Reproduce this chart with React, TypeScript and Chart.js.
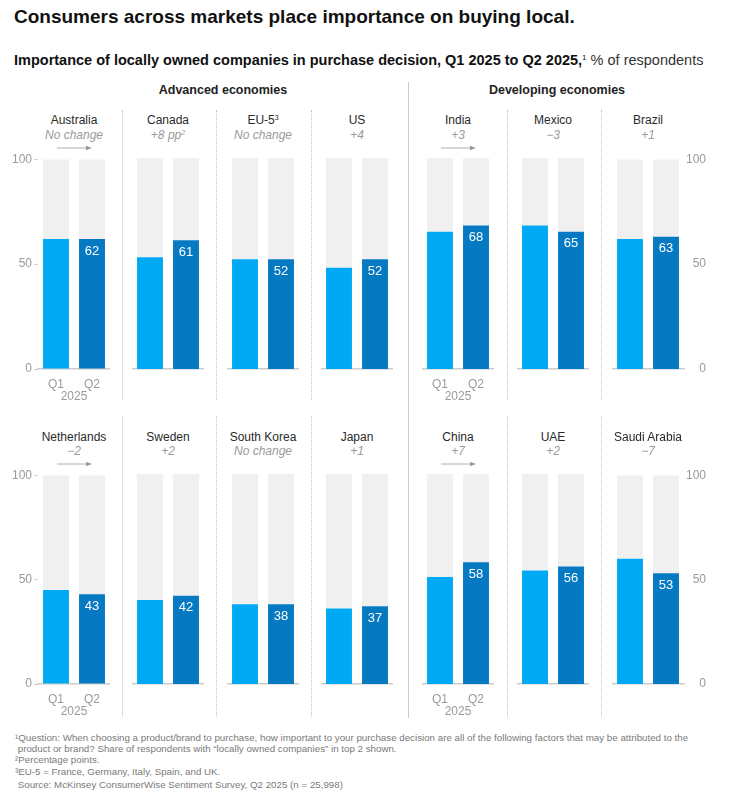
import React, { useEffect, useRef } from 'react';
import { Chart, registerables } from 'chart.js';

Chart.register(...registerables);

// ---------- data ----------
const quarters = ['Q1', 'Q2'];
const yTicks = [0, 50, 100];

const row1Countries = ['Australia', 'Canada', 'EU-5', 'US', 'India', 'Mexico', 'Brazil'];
const row1Sup = ['', '', '3', '', '', '', ''];
const row1Changes = ['No change', '+8 pp', 'No change', '+4', '+3', '\u22123', '+1'];
const row1ChangeSup = ['', '2', '', '', '', '', ''];
const row1Q1 = [62, 53, 52, 48, 65, 68, 62];
const row1Q2 = [62, 61, 52, 52, 68, 65, 63];

const row2Countries = ['Netherlands', 'Sweden', 'South Korea', 'Japan', 'China', 'UAE', 'Saudi Arabia'];
const row2Sup = ['', '', '', '', '', '', ''];
const row2Changes = ['\u22122', '+2', 'No change', '+1', '+7', '+2', '\u22127'];
const row2ChangeSup = ['', '', '', '', '', '', ''];
const row2Q1 = [45, 40, 38, 36, 51, 54, 60];
const row2Q2 = [43, 42, 38, 37, 58, 56, 53];

const groupHeaders = ['Advanced economies', 'Developing economies'];

const footnotes = [
  '\u00B9Question: When choosing a product/brand to purchase, how important to your purchase decision are all of the following factors that may be attributed to the',
  ' product or brand? Share of respondents with \u201Clocally owned companies\u201D in top 2 shown.',
  '\u00B2Percentage points.',
  '\u00B3EU-5 = France, Germany, Italy, Spain, and UK.',
  ' Source: McKinsey ConsumerWise Sentiment Survey, Q2 2025 (n = 25,998)',
];

// ---------- style ----------
const FONT = '"Liberation Sans", Arial, sans-serif';
const Q1C = '#00A9F4';
const Q2C = '#0679C3';
const TRACK = '#F0F0F0';
const TICK = '#9a9a9a';

const panelLefts = [38, 132, 227, 321, 422, 517, 612];
const PW = 72;
const LEFT_AXIS_W = 38;
const RIGHT_AXIS_W = 22;
const X_AXIS_H = 40;
const PAD_TOP = 8;

const valueLabelPlugin = {
  id: 'valueLabel',
  afterDatasetsDraw(chart: any) {
    const meta = chart.getDatasetMeta(0);
    const bar = meta.data[1];
    const v = chart.data.datasets[0].data[1];
    const ctx = chart.ctx;
    ctx.save();
    ctx.fillStyle = '#ffffff';
    ctx.font = `13px ${FONT}`;
    ctx.textAlign = 'center';
    ctx.textBaseline = 'middle';
    ctx.fillText(String(v), bar.x, bar.y + 12);
    ctx.restore();
  },
};

type PanelProps = {
  q1: number;
  q2: number;
  chartLeft: number;
  chartTop: number;
  chartH: number;
  axis: 'left' | 'right' | 'none';
  showX: boolean;
};

function Panel({ q1, q2, chartLeft, chartTop, chartH, axis, showX }: PanelProps) {
  const ref = useRef<HTMLCanvasElement>(null);
  const axisW = axis === 'left' ? LEFT_AXIS_W : axis === 'right' ? RIGHT_AXIS_W : 0;
  const width = PW + axisW;
  const height = PAD_TOP + chartH + X_AXIS_H;
  const left = axis === 'left' ? chartLeft - LEFT_AXIS_W : chartLeft;
  const top = chartTop - PAD_TOP;

  useEffect(() => {
    const values = [q1, q2];
    const rest = values.map((v) => 100 - v);
    const xColor = showX ? TICK : 'rgba(0,0,0,0)';
    const chart = new Chart(ref.current as HTMLCanvasElement, {
      type: 'bar',
      data: {
        labels: quarters,
        datasets: [
          {
            data: values,
            backgroundColor: [Q1C, Q2C],
            barPercentage: 0.72,
            categoryPercentage: 1,
            stack: 's',
          },
          {
            data: rest,
            backgroundColor: TRACK,
            barPercentage: 0.72,
            categoryPercentage: 1,
            stack: 's',
          },
        ],
      },
      options: {
        animation: false,
        responsive: false,
        maintainAspectRatio: false,
        events: [],
        layout: { padding: { top: PAD_TOP, left: 0, right: 0, bottom: 0 } },
        plugins: { legend: { display: false }, tooltip: { enabled: false } },
        scales: {
          x: {
            stacked: true,
            grid: { display: false },
            border: { display: true, color: '#cccccc', width: 1.5 },
            ticks: { color: xColor, font: { family: FONT, size: 12 }, padding: 0 },
            title: {
              display: true,
              text: '2025',
              color: xColor,
              font: { family: FONT, size: 12 },
              padding: { top: 0, bottom: 5 },
            },
            afterFit: (s: any) => {
              s.height = X_AXIS_H;
            },
          },
          y: {
            stacked: true,
            min: 0,
            max: 100,
            display: axis !== 'none',
            position: axis === 'right' ? 'right' : 'left',
            afterBuildTicks: (s: any) => {
              s.ticks = yTicks.map((v) => ({ value: v }));
            },
            grid:
              axis === 'left'
                ? { display: true, drawOnChartArea: false, drawTicks: true, tickLength: 4, color: '#cfcfcf' }
                : { display: false },
            border: { display: false },
            ticks: {
              color: TICK,
              font: { family: FONT, size: 12 },
              padding: 2,
              crossAlign: axis === 'right' ? 'far' : 'near',
            },
            afterFit: (s: any) => {
              s.width = axisW;
            },
          },
        },
      },
      plugins: [valueLabelPlugin],
    } as any);
    return () => chart.destroy();
  }, [q1, q2, chartLeft, chartTop, chartH, axis, showX]);

  return (
    <canvas
      ref={ref}
      width={width}
      height={height}
      style={{ position: 'absolute', left, top, width, height }}
    />
  );
}

function Arrow({ cx, y }: { cx: number; y: number }) {
  return (
    <svg
      style={{ position: 'absolute', left: cx - 18, top: y - 4 }}
      width={38}
      height={8}
    >
      <line x1={1} y1={4} x2={31} y2={4} stroke="#b0b0b0" strokeWidth={1} />
      <polygon points="30,1.8 36,4 30,6.2" fill="#9a9a9a" />
    </svg>
  );
}

function Row({
  countries,
  sups,
  changes,
  changeSups,
  q1,
  q2,
  chartTop,
  chartH,
  nameY,
  changeY,
  arrowY,
}: {
  countries: string[];
  sups: string[];
  changes: string[];
  changeSups: string[];
  q1: number[];
  q2: number[];
  chartTop: number;
  chartH: number;
  nameY: number;
  changeY: number;
  arrowY: number;
}) {
  return (
    <>
      {countries.map((c, i) => {
        const cx = panelLefts[i] + PW / 2;
        const axis = i === 0 ? 'left' : i === countries.length - 1 ? 'right' : 'none';
        const first = i === 0 || i === 4;
        return (
          <React.Fragment key={c}>
            <div
              style={{
                position: 'absolute',
                left: cx - 60,
                width: 120,
                top: nameY - 7,
                height: 14,
                lineHeight: '14px',
                textAlign: 'center',
                fontSize: 12,
                color: '#2a2a2a',
                whiteSpace: 'nowrap',
              }}
            >
              {c}
              {sups[i] ? (
                <span style={{ fontSize: 7, verticalAlign: 'top', lineHeight: '10px' }}>{sups[i]}</span>
              ) : null}
            </div>
            <div
              style={{
                position: 'absolute',
                left: cx - 60,
                width: 120,
                top: changeY - 7,
                height: 14,
                lineHeight: '14px',
                textAlign: 'center',
                fontSize: 12,
                fontStyle: 'italic',
                color: '#9a9a9a',
                whiteSpace: 'nowrap',
              }}
            >
              {changes[i]}
              {changeSups[i] ? (
                <span style={{ fontSize: 7, verticalAlign: 'top', lineHeight: '10px' }}>{changeSups[i]}</span>
              ) : null}
            </div>
            {first ? <Arrow cx={cx} y={arrowY} /> : null}
            <Panel
              q1={q1[i]}
              q2={q2[i]}
              chartLeft={panelLefts[i]}
              chartTop={chartTop}
              chartH={chartH}
              axis={axis as any}
              showX={first}
            />
          </React.Fragment>
        );
      })}
    </>
  );
}

export default function App() {
  const dotted = [122, 216, 311, 507, 601];
  return (
    <div
      style={{
        position: 'absolute',
        left: 0,
        top: 0,
        width: 729,
        height: 797,
        background: '#ffffff',
        fontFamily: FONT,
        overflow: 'hidden',
      }}
    >
      <div
        style={{
          position: 'absolute',
          left: 14,
          top: 6.5,
          fontSize: 19,
          lineHeight: '19px',
          fontWeight: 700,
          color: '#111',
          whiteSpace: 'nowrap',
        }}
      >
        Consumers across markets place importance on buying local.
      </div>
      <div
        style={{
          position: 'absolute',
          left: 14,
          top: 53,
          fontSize: 14.5,
          lineHeight: '15px',
          color: '#111',
          whiteSpace: 'nowrap',
        }}
      >
        <span style={{ fontWeight: 700 }}>
          Importance of locally owned companies in purchase decision, Q1 2025 to Q2 2025,
        </span>
        <span style={{ fontSize: 8, verticalAlign: 'top', lineHeight: '10px' }}>1</span>
        <span style={{ color: '#333' }}> % of respondents</span>
      </div>

      <div
        style={{
          position: 'absolute',
          left: 223 - 100,
          width: 200,
          top: 83,
          lineHeight: '14px',
          textAlign: 'center',
          fontSize: 12.5,
          fontWeight: 700,
          color: '#222',
        }}
      >
        {groupHeaders[0]}
      </div>
      <div
        style={{
          position: 'absolute',
          left: 557 - 100,
          width: 200,
          top: 83,
          lineHeight: '14px',
          textAlign: 'center',
          fontSize: 12.5,
          fontWeight: 700,
          color: '#222',
        }}
      >
        {groupHeaders[1]}
      </div>

      <div
        style={{
          position: 'absolute',
          left: 408,
          top: 82,
          width: 0,
          height: 636,
          borderLeft: '1px solid #cccccc',
        }}
      />
      {dotted.map((x) => (
        <React.Fragment key={x}>
          <div
            style={{
              position: 'absolute',
              left: x,
              top: 110,
              width: 0,
              height: 290,
              borderLeft: '1px dotted #c4c4c4',
            }}
          />
          <div
            style={{
              position: 'absolute',
              left: x,
              top: 416,
              width: 0,
              height: 301,
              borderLeft: '1px dotted #c4c4c4',
            }}
          />
        </React.Fragment>
      ))}

      <Row
        countries={row1Countries}
        sups={row1Sup}
        changes={row1Changes}
        changeSups={row1ChangeSup}
        q1={row1Q1}
        q2={row1Q2}
        chartTop={158}
        chartH={211}
        nameY={120}
        changeY={134.5}
        arrowY={148}
      />
      <Row
        countries={row2Countries}
        sups={row2Sup}
        changes={row2Changes}
        changeSups={row2ChangeSup}
        q1={row2Q1}
        q2={row2Q2}
        chartTop={474}
        chartH={210}
        nameY={436.5}
        changeY={451}
        arrowY={464}
      />

      {footnotes.map((f, i) => {
        const ys = [737.5, 749, 760, 771.5, 784.5];
        return (
          <div
            key={i}
            style={{
              position: 'absolute',
              left: 15,
              top: ys[i] - 6,
              height: 12,
              lineHeight: '12px',
              fontSize: 9.75,
              color: '#7a7a7a',
              whiteSpace: 'pre',
            }}
          >
            {f}
          </div>
        );
      })}
    </div>
  );
}
